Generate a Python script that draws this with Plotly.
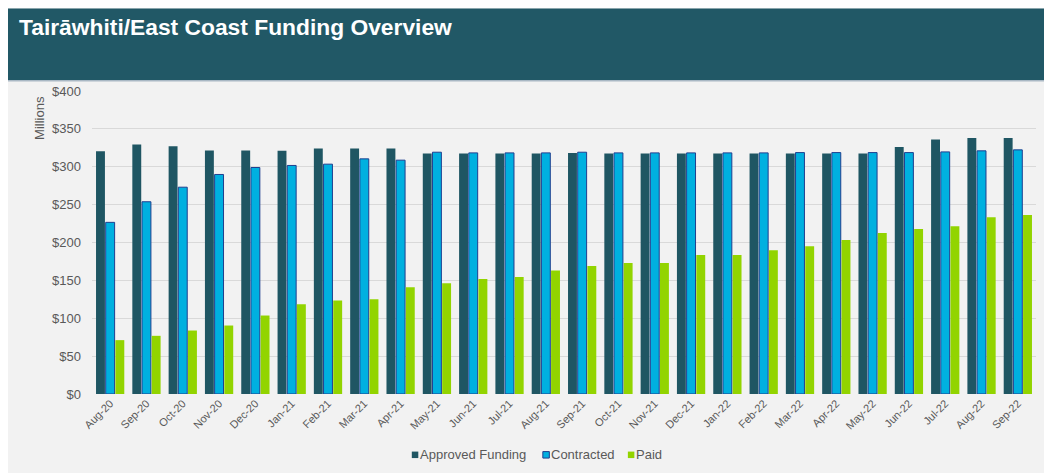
import plotly.graph_objects as go

months = ["Aug-20", "Sep-20", "Oct-20", "Nov-20", "Dec-20", "Jan-21", "Feb-21", "Mar-21", "Apr-21",
          "May-21", "Jun-21", "Jul-21", "Aug-21", "Sep-21", "Oct-21", "Nov-21", "Dec-21", "Jan-22",
          "Feb-22", "Mar-22", "Apr-22", "May-22", "Jun-22", "Jul-22", "Aug-22", "Sep-22"]
approved = [320.5, 329.4, 327, 321.4, 321.4, 321, 324, 324, 324,
            317.5, 317.5, 317.5, 317.5, 318.3, 317.5, 317.5, 317.5, 317.5,
            317.5, 317.5, 317.5, 317.5, 326.2, 336, 338, 338]
contracted = [226.6, 253.8, 273, 289.8, 299, 301.7, 303.4, 310.4, 308.7,
              319.2, 318.3, 318.3, 318.3, 319.2, 318.3, 318.3, 318.3, 318.3,
              318.3, 318.7, 318.7, 318.7, 318.7, 319.6, 321, 322.3]
paid = [71.1, 76.8, 83.8, 90.4, 103.6, 118.5, 123.3, 125.1, 141,
        146.2, 151.9, 154.5, 162.9, 169, 173, 173, 183.5, 183.5,
        189.7, 195, 203.3, 212.5, 217.8, 221.3, 233.2, 236.2]
y_ticks = [0, 50, 100, 150, 200, 250, 300, 350, 400]
y_tick_labels = ["$0", "$50", "$100", "$150", "$200", "$250", "$300", "$350", "$400"]

series_names = ["Approved Funding", "Contracted", "Paid"]
series_colors = ["#1f5663", "#00b0e0", "#92d400"]
series_borders = [None, "#1f3f8f", None]

FONT = "Arial, Liberation Sans, sans-serif"
GRAY_TXT = "#595959"

# The page body adds an 8px margin; figure coordinates are page coordinates minus 8.
OFF = 8
W, H = 1052 - OFF, 473 - OFF
L, R, T, B = 92.3 - OFF, 1036.0 - OFF, 90.7 - OFF, 394.3 - OFF


def px(x):
    return (x - OFF - L) / (R - L)


def py(y):
    return (B - (y - OFF)) / (B - T)


fig = go.Figure()
for name, vals, col, bord in zip(series_names, [approved, contracted, paid],
                                 series_colors, series_borders):
    line = dict(color=bord, width=1) if bord else dict(width=0)
    fig.add_trace(go.Bar(name=name, x=months, y=vals, marker=dict(color=col, line=line)))

shapes = [
    dict(type="rect", xref="paper", yref="paper", x0=px(8), x1=px(1060), y0=py(8), y1=py(80),
         fillcolor="#215866", line=dict(width=0), layer="below"),
    dict(type="line", xref="paper", yref="paper", x0=px(8), x1=px(1060), y0=py(80.5), y1=py(80.5),
         line=dict(color="#a9b8c4", width=1.5), layer="below"),
]

annotations = [
    dict(text="<b>Tairāwhiti/East Coast Funding Overview</b>", xref="paper", yref="paper",
         x=px(17), y=py(27), xanchor="left", yanchor="middle", showarrow=False,
         font=dict(family=FONT, size=22.8, color="white")),
    dict(text="Millions", xref="paper", yref="paper", x=px(40), y=py(118),
         xanchor="center", yanchor="middle", textangle=-90, showarrow=False,
         font=dict(family=FONT, size=13, color=GRAY_TXT)),
]

# compact legend matching the reference (small squares right next to the labels)
legend_x = [412, 543, 628]
LEG_Y = 455
for name, col, bord, lx in zip(series_names, series_colors, series_borders, legend_x):
    shapes.append(dict(type="rect", xref="paper", yref="paper",
                       x0=px(lx), x1=px(lx + 6.5), y0=py(LEG_Y + 3.5), y1=py(LEG_Y - 3),
                       fillcolor=col,
                       line=dict(color=bord, width=1) if bord else dict(width=0)))
    annotations.append(dict(text=name, xref="paper", yref="paper", x=px(lx + 6), y=py(LEG_Y),
                            xanchor="left", yanchor="middle", showarrow=False,
                            font=dict(family=FONT, size=13, color=GRAY_TXT)))

fig.update_layout(
    width=W, height=H,
    margin=dict(l=L, r=W - R, t=T, b=H - B, pad=0, autoexpand=False),
    paper_bgcolor="#f2f2f2",
    plot_bgcolor="rgba(0,0,0,0)",
    barmode="group", bargap=0.2, bargroupgap=0.08,
    font=dict(family=FONT, size=11, color=GRAY_TXT),
    shapes=shapes, annotations=annotations,
    showlegend=False,
    xaxis=dict(tickangle=-45, tickfont=dict(size=11, color=GRAY_TXT), showgrid=False,
               showline=False, ticks="", automargin=False),
    yaxis=dict(range=[0, 400], tickmode="array", tickvals=y_ticks, ticktext=y_tick_labels,
               tickfont=dict(size=13, color=GRAY_TXT), showgrid=True, gridcolor="#d9d9d9",
               gridwidth=1, zeroline=False, showline=False, ticks="", ticklabelstandoff=10,
               automargin=False),
)

fig.write_html("out.html")
